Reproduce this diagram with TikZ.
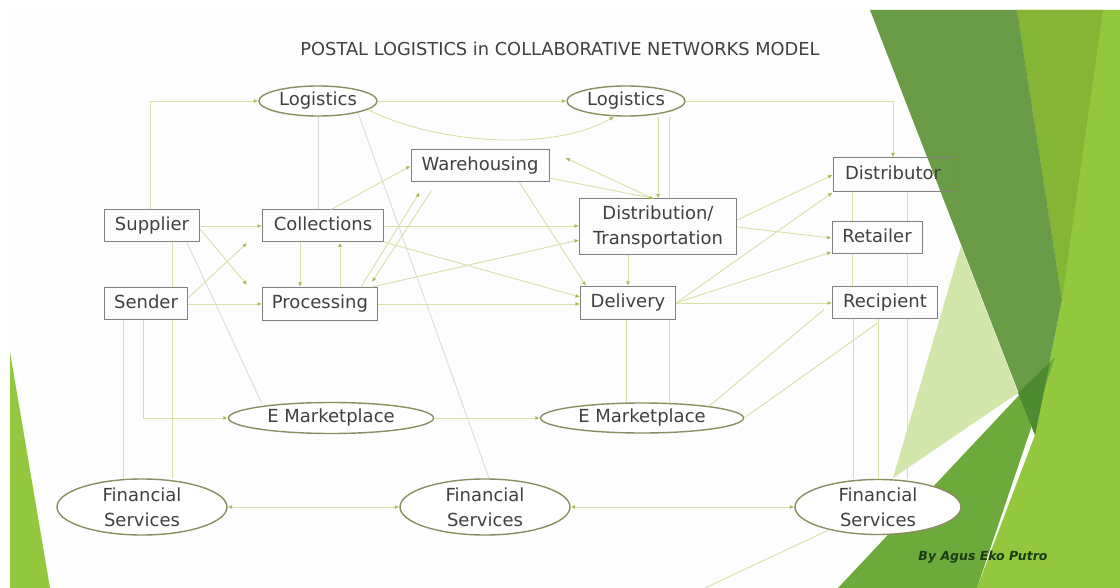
\documentclass[tikz,border=0pt]{standalone}
\usepackage{fontspec}
\setmainfont{DejaVu Sans}
\usetikzlibrary{arrows.meta,shapes.geometric}
\definecolor{lc}{HTML}{D6E1A9}
\definecolor{ac}{HTML}{A3BC55}
\definecolor{gc}{HTML}{D9D9D9}
\definecolor{bc}{HTML}{7F7F7F}
\definecolor{ec}{HTML}{8C8C62}
\definecolor{tc}{HTML}{404040}
\definecolor{agc}{HTML}{1D3A12}
\definecolor{dkg}{HTML}{6A9C48}
\definecolor{dkr}{HTML}{4E8B30}
\definecolor{mdg}{HTML}{6CAA3B}
\definecolor{lim}{HTML}{92C73E}
\definecolor{limb}{HTML}{84B535}
\definecolor{pal}{HTML}{D2E6AC}
\definecolor{slide}{HTML}{FDFDFD}
\begin{document}
\begin{tikzpicture}[x=1pt,y=-1pt,
  font=\fontsize{18}{25}\selectfont,
  box/.style={draw=bc, line width=1pt, text=tc, inner sep=0pt, text height=13pt, text depth=4pt},
  boxtwo/.style={draw=bc, line width=1pt, text=tc, inner sep=0pt, align=center},
  ell/.style={ellipse, draw=ec, line width=1.4pt, fill=white, inner sep=0pt, text=tc, text height=13pt, text depth=4pt},
  txt/.style={text=tc, align=center, inner sep=0pt},
  cn/.style={draw=lc, line width=0.9pt},
  ar/.style={cn, -{Latex[length=4.5pt,width=4pt,color=ac]}},
  ab/.style={cn, {Latex[length=4.5pt,width=4pt,color=ac]}-{Latex[length=4.5pt,width=4pt,color=ac]}},
  gl/.style={draw=gc, line width=0.8pt}]
\useasboundingbox (0,0) rectangle (1120,588);
% background
\fill[white] (0,0) rectangle (1120,588);
\fill[slide] (10,10) rectangle (1120,588);
\fill[lim] (1017,10) -- (1120,10) -- (1120,588) -- (977,588) -- (1035,435) -- (1062,300) -- cycle;
\fill[limb] (1017,10) -- (1103,10) -- (1062,300) -- cycle;
\fill[pal] (961,246) -- (1018,393) -- (893,478) -- cycle;
\fill[dkg] (870,10) -- (1017,10) -- (1062,300) -- (1035,435) -- cycle;
\fill[mdg] (838,588) -- (1055,357) -- (977,588) -- cycle;
\fill[dkr] (1018,393) -- (1050,362) -- (1035,435) -- cycle;
\fill[lim] (10,352) -- (50,588) -- (10,588) -- cycle;

% title
\node[font=\fontsize{17.8}{20}\selectfont, text=tc, anchor=base] (title) at (560,56) {POSTAL LOGISTICS in COLLABORATIVE NETWORKS MODEL};

% boxes
\node[box, minimum width=95pt, minimum height=32pt] (sup) at (152,226) {Supplier};
\node[box, minimum width=83pt, minimum height=32pt] (sen) at (146,304) {Sender};
\node[box, minimum width=121pt, minimum height=32pt] (col) at (323,226) {Collections};
\node[box, minimum width=115pt, minimum height=33pt] (proc) at (320,304) {Processing};
\node[box, minimum width=138pt, minimum height=32pt] (ware) at (480,166) {Warehousing};
\node[boxtwo, minimum width=157pt, minimum height=56pt] (dt) at (658,227) {Distribution/\\Transportation};
\node[box, minimum width=95pt, minimum height=33pt] (del) at (628,303) {Delivery};
\node[box, minimum width=120pt, minimum height=34pt] (dist) at (893,175) {Distributor};
\node[box, minimum width=90pt, minimum height=32pt] (ret) at (877,238) {Retailer};
\node[box, minimum width=105pt, minimum height=32pt] (rec) at (885,303) {Recipient};

% ellipses
\node[ell, minimum width=118pt, minimum height=30pt] (log1) at (318,101) {Logistics};
\node[ell, minimum width=118pt, minimum height=30pt] (log2) at (626,101) {Logistics};
\node[ell, minimum width=205pt, minimum height=31pt] (em1) at (331,418) {E Marketplace};
\node[ell, minimum width=203pt, minimum height=30pt] (em2) at (642,418) {E Marketplace};
\node[ellipse, draw=ec, line width=1.4pt, fill=white, minimum width=170pt, minimum height=56pt] (fs1) at (142,507) {};
\node[ellipse, draw=ec, line width=1.4pt, fill=white, minimum width=170pt, minimum height=56pt] (fs2) at (485,507) {};
\node[ellipse, draw=ec, line width=1.4pt, fill=white, minimum width=166pt, minimum height=55pt] (fs3) at (878,507) {};
\node[txt] (fs1t) at (fs1) {Financial\\Services};
\node[txt] (fs2t) at (fs2) {Financial\\Services};
\node[txt] (fs3t) at (fs3) {Financial\\Services};

% author
\node[font=\fontsize{12.5}{14}\selectfont\bfseries\itshape, text=agc] (auth) at (983,557) {By Agus Eko Putro};

\coordinate (botc) at (705,588);

% connectors
\draw[ar] ([xshift=-2pt]sup.north) |- (log1.west);
\draw[ar] (log1.east) -- (log2.west);
\draw[ar] (log2.east) -| (dist.north);
\draw[gl] (log1.south) -- (log1.south |- col.north);
\draw[gl] ([xshift=40pt,yshift=4pt]log1.south) -- ([xshift=4pt]fs2.north);
\draw[ar] ([xshift=50pt,yshift=7pt]log1.south) .. controls +(70,35) and +(-60,35) .. ([xshift=-12pt]log2.south);
\draw[ar] ([xshift=8pt]col.north) -- (ware.west);
\draw[ar] (sup.east) -- (col.west);
\draw[ar] ([yshift=-3pt]sup.east) -- ([xshift=-15pt,yshift=2pt]proc.north west);
\draw[ar] ([yshift=6pt]sen.east) -- ([xshift=-15pt,yshift=-17pt]col.west);
\draw[ar] (sen.east) -- (sen.east -| proc.west);
\draw[ar] ([xshift=-23pt]col.south) -- ([xshift=-23pt]col.south |- proc.north);
\draw[ar] ([xshift=20pt]proc.north) -- ([xshift=20pt]proc.north |- col.south);
\draw[ar] ([xshift=-17pt]proc.north east) -- ([xshift=9pt,yshift=-10pt]ware.south west);
\draw[ar] ([xshift=21pt,yshift=-8pt]ware.south west) -- ([xshift=-6pt,yshift=5pt]proc.north east);
\draw[ar] (col.east) -- (col.east -| dt.west);
\draw[ar] ([yshift=-16pt]col.east) -- ([yshift=6pt]del.west);
\draw[ar] ([xshift=-6pt]proc.north east) -- ([yshift=-13pt]dt.west);
\draw[ar] (proc.east) -- (proc.east -| del.west);
\draw[ar] ([xshift=-30pt]ware.south east) -- ([xshift=6pt]del.north west);
\draw[ar] ([xshift=-5pt]dt.north) -- ([xshift=16pt,yshift=8pt]ware.east);
\draw[ar] ([yshift=-12pt]ware.east) -- ([xshift=-4pt]dt.north);
\draw[ar] ([xshift=32pt]log2.south) -- ([xshift=32pt]log2.south |- dt.north);
\draw[cn] ([xshift=43pt]log2.south) -- ([xshift=43pt]log2.south |- dt.north);
\draw[ar] ([xshift=-30pt]dt.south) -- ([xshift=-30pt]dt.south |- del.north);
\draw[cn] ([xshift=-2pt]del.south) -- ([xshift=-2pt]del.south |- em2.north);
\draw[cn] ([xshift=41pt]del.south) -- ([xshift=41pt]del.south |- em2.north);
\draw[ar] ([yshift=7pt]dt.east) -- (dist.west);
\draw[ar] (dt.east) -- (ret.west);
\draw[ar] (del.east) -- (dist.south west);
\draw[ar] (del.east) -- ([yshift=-14pt]ret.west);
\draw[ar] (del.east) -- (rec.west);
\draw[cn] (em2.10) -- ([xshift=-8pt,yshift=10pt]rec.south west);
\draw[cn] (em2.east) -- ([xshift=-8pt,yshift=-4pt]rec.south);
\draw[cn] (botc) -- (fs3.205);
\draw[gl] ([xshift=35pt]sup.south) -- ([xshift=-69pt,yshift=-2pt]em1.north);
\draw[cn] ([xshift=20pt]sup.south) -- ([xshift=20pt]sup.south |- sen.north);
\draw[cn] ([xshift=26pt]sen.south) -- ([xshift=26pt]sen.south |- fs1.north);
\draw[cn] ([xshift=-23pt]sen.south) -- ([xshift=-23pt]sen.south |- fs1.north);
\draw[ar] ([xshift=-3pt]sen.south) |- (em1.west);
\draw[ar] (em1.east) -- (em2.west);
\draw[ab] (fs1.east) -- (fs2.west);
\draw[ab] (fs2.east) -- (fs3.west);
\draw[cn] ([xshift=-41pt]dist.south) -- ([xshift=-41pt]dist.south |- ret.north);
\draw[cn] ([xshift=14pt]dist.south) -- ([xshift=14pt]dist.south |- ret.north);
\draw[cn] ([xshift=-25pt]ret.south) -- ([xshift=-25pt]ret.south |- rec.north);
\draw[cn] ([xshift=30pt]ret.south) -- ([xshift=30pt]ret.south |- rec.north);
\draw[cn] ([xshift=-32pt]rec.south) -- ([xshift=-32pt]rec.south |- fs3.north);
\draw[cn] ([xshift=-7pt]rec.south) -- ([xshift=-7pt]rec.south |- fs3.north);
\draw[cn] ([xshift=22pt]rec.south) -- ([xshift=22pt]rec.south |- fs3.north);
\end{tikzpicture}
\end{document}
